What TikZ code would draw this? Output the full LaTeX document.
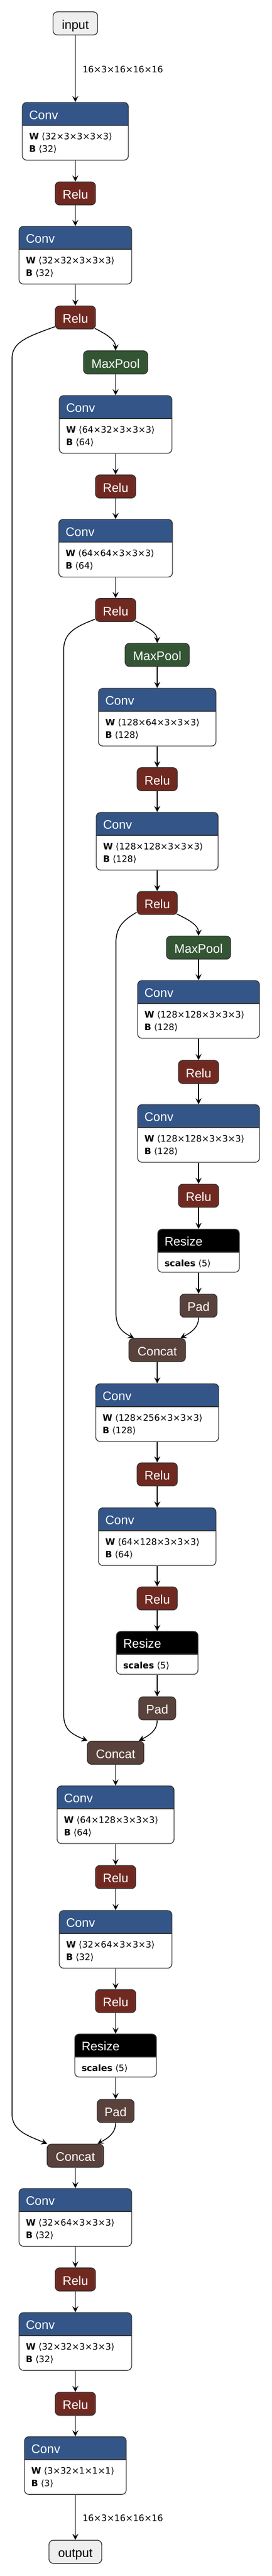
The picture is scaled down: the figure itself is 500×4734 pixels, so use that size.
\documentclass[tikz,border=0pt]{standalone}
\usepackage{fontspec}
\setmainfont{Liberation Sans}
\newfontfamily\dejavu{DejaVu Sans}
\usetikzlibrary{arrows.meta,calc}
\definecolor{convc}{RGB}{51,85,136}
\definecolor{reluc}{RGB}{112,41,33}
\definecolor{poolc}{RGB}{51,85,51}
\definecolor{tensc}{RGB}{89,66,59}
\definecolor{ioc}{RGB}{238,238,238}
\definecolor{bordc}{RGB}{51,51,51}
\newcommand{\titlefont}{\fontsize{22.8}{26}\selectfont}
\newcommand{\attrfont}{\dejavu\fontsize{16.3}{19}\selectfont}

\begin{document}
\begin{tikzpicture}[x=1pt, y=-1pt,
        box/.style={draw=bordc, line width=1.4pt, rounded corners=8pt, inner sep=0pt},
        op/.style={box, minimum height=42.5pt, text height=22pt, text depth=1.6pt, text=white, font=\titlefont},
        relubox/.style={op, fill=reluc, minimum width=74pt},
        poolbox/.style={op, fill=poolc, minimum width=118pt},
        padbox/.style={op, fill=tensc, minimum width=68pt},
        catbox/.style={op, fill=tensc, minimum width=104pt},
        iobox/.style={op, fill=ioc, text=black},
        head/.style={anchor=base west, inner sep=0pt, xshift=13pt, yshift=-31.5pt, text=white, font=\titlefont},
        attr/.style={anchor=base west, inner sep=0pt, xshift=13pt, text=black, font=\attrfont},
        wline/.style={attr, yshift=-68.7pt},
        bline/.style={attr, yshift=-92pt},
        layer/.style={box, fill=white, minimum height=106pt,
            path picture={
                \fill [#1, sharp corners] (path picture bounding box.north west) rectangle ([yshift=-42pt]path picture bounding box.north east);
                \draw [bordc, line width=1.4pt, sharp corners] ([yshift=-42pt]path picture bounding box.north west) -- ([yshift=-42pt]path picture bounding box.north east);
            }},
        conv/.style={layer=convc, label={[head]north west:Conv}},
        resize/.style={layer=black, minimum height=79pt, minimum width=150pt, label={[head]north west:Resize}, label={[wline]north west:{\textbf{scales} ⟨5⟩}}},
        edge/.style={line width=1.5pt, -{Stealth[length=11pt, width=11pt, inset=4pt]}},
        shape label/.style={font=\attrfont, anchor=west, inner sep=0pt, xshift=12.5pt, yshift=-1.5pt}
    ]
    \useasboundingbox (0, 0) rectangle (500, 4734);

    % encoder
    \node [iobox, minimum width=82pt] (input) at (138.5, 43) {input};
    \node [conv, minimum width=195pt, label={[wline]north west:{\textbf{W} ⟨32×3×3×3×3⟩}}, label={[bline]north west:{\textbf{B} ⟨32⟩}}] (conv1) at (138.5, 241.3) {};
    \node [relubox] (relu1) at (138.5, 355.5) {Relu};
    \node [conv, minimum width=207pt, label={[wline]north west:{\textbf{W} ⟨32×32×3×3×3⟩}}, label={[bline]north west:{\textbf{B} ⟨32⟩}}] (conv2) at (138.5, 469) {};
    \node [relubox] (relu2) at (138.5, 583.5) {Relu};
    \node [poolbox] (pool1) at (212.5, 666) {MaxPool};
    \node [conv, minimum width=207pt, label={[wline]north west:{\textbf{W} ⟨64×32×3×3×3⟩}}, label={[bline]north west:{\textbf{B} ⟨64⟩}}] (conv3) at (212.5, 780) {};
    \node [relubox] (relu3) at (212.5, 894) {Relu};
    \node [conv, minimum width=209pt, label={[wline]north west:{\textbf{W} ⟨64×64×3×3×3⟩}}, label={[bline]north west:{\textbf{B} ⟨64⟩}}] (conv4) at (212.5, 1007.5) {};
    \node [relubox] (relu4) at (212.5, 1121) {Relu};
    \node [poolbox] (pool2) at (289, 1203.5) {MaxPool};
    \node [conv, minimum width=216pt, label={[wline]north west:{\textbf{W} ⟨128×64×3×3×3⟩}}, label={[bline]north west:{\textbf{B} ⟨128⟩}}] (conv5) at (289, 1318) {};
    \node [relubox] (relu5) at (289, 1432) {Relu};
    \node [conv, minimum width=224pt, label={[wline]north west:{\textbf{W} ⟨128×128×3×3×3⟩}}, label={[bline]north west:{\textbf{B} ⟨128⟩}}] (conv6) at (289, 1546) {};
    \node [relubox] (relu6) at (289, 1659.5) {Relu};
    \node [poolbox] (pool3) at (365, 1741.5) {MaxPool};
    \node [conv, minimum width=224pt, label={[wline]north west:{\textbf{W} ⟨128×128×3×3×3⟩}}, label={[bline]north west:{\textbf{B} ⟨128⟩}}] (conv7) at (365, 1855) {};
    \node [relubox] (relu7) at (365, 1970) {Relu};
    \node [conv, minimum width=224pt, label={[wline]north west:{\textbf{W} ⟨128×128×3×3×3⟩}}, label={[bline]north west:{\textbf{B} ⟨128⟩}}] (conv8) at (365, 2083) {};
    \node [relubox] (relu8) at (365, 2197.5) {Relu};

    % decoder
    \node [resize] (resize1) at (365, 2298.5) {};
    \node [padbox] (pad1) at (365, 2399.5) {Pad};
    \node [catbox] (cat1) at (289, 2481) {Concat};
    \node [conv, minimum width=226pt, label={[wline]north west:{\textbf{W} ⟨128×256×3×3×3⟩}}, label={[bline]north west:{\textbf{B} ⟨128⟩}}] (conv9) at (289, 2596) {};
    \node [relubox] (relu9) at (289, 2709.5) {Relu};
    \node [conv, minimum width=216pt, label={[wline]north west:{\textbf{W} ⟨64×128×3×3×3⟩}}, label={[bline]north west:{\textbf{B} ⟨64⟩}}] (conv10) at (289, 2824) {};
    \node [relubox] (relu10) at (289, 2937.5) {Relu};
    \node [resize] (resize2) at (289, 3037.5) {};
    \node [padbox] (pad2) at (289, 3139.5) {Pad};
    \node [catbox] (cat2) at (212.5, 3221) {Concat};
    \node [conv, minimum width=215pt, label={[wline]north west:{\textbf{W} ⟨64×128×3×3×3⟩}}, label={[bline]north west:{\textbf{B} ⟨64⟩}}] (conv11) at (212.5, 3335) {};
    \node [relubox] (relu11) at (212.5, 3449.5) {Relu};
    \node [conv, minimum width=207pt, label={[wline]north west:{\textbf{W} ⟨32×64×3×3×3⟩}}, label={[bline]north west:{\textbf{B} ⟨32⟩}}] (conv12) at (212.5, 3564) {};
    \node [relubox] (relu12) at (212.5, 3677.5) {Relu};
    \node [resize] (resize3) at (212.5, 3777.5) {};
    \node [padbox] (pad3) at (212.5, 3879.5) {Pad};
    \node [catbox] (cat3) at (138.5, 3961.5) {Concat};
    \node [conv, minimum width=207pt, label={[wline]north west:{\textbf{W} ⟨32×64×3×3×3⟩}}, label={[bline]north west:{\textbf{B} ⟨32⟩}}] (conv13) at (138.5, 4075) {};
    \node [relubox] (relu13) at (138.5, 4189) {Relu};
    \node [conv, minimum width=207pt, label={[wline]north west:{\textbf{W} ⟨32×32×3×3×3⟩}}, label={[bline]north west:{\textbf{B} ⟨32⟩}}] (conv14) at (138.5, 4303) {};
    \node [relubox] (relu14) at (138.5, 4417.5) {Relu};
    \node [conv, minimum width=187pt, label={[wline]north west:{\textbf{W} ⟨3×32×1×1×1⟩}}, label={[bline]north west:{\textbf{B} ⟨3⟩}}] (conv15) at (138.5, 4531) {};
    \node [iobox, minimum width=97pt] (output) at (138.5, 4689.5) {output};

    % straight connectors
    \draw [edge] (input) -- node [shape label] {16×3×16×16×16} (conv1);
    \draw [edge] (conv1) -- (relu1);
    \draw [edge] (relu1) -- (conv2);
    \draw [edge] (conv2) -- (relu2);
    \draw [edge] (pool1) -- (conv3);
    \draw [edge] (conv3) -- (relu3);
    \draw [edge] (relu3) -- (conv4);
    \draw [edge] (conv4) -- (relu4);
    \draw [edge] (pool2) -- (conv5);
    \draw [edge] (conv5) -- (relu5);
    \draw [edge] (relu5) -- (conv6);
    \draw [edge] (conv6) -- (relu6);
    \draw [edge] (pool3) -- (conv7);
    \draw [edge] (conv7) -- (relu7);
    \draw [edge] (relu7) -- (conv8);
    \draw [edge] (conv8) -- (relu8);
    \draw [edge] (relu8) -- (resize1);
    \draw [edge] (resize1) -- (pad1);
    \draw [edge] (cat1) -- (conv9);
    \draw [edge] (conv9) -- (relu9);
    \draw [edge] (relu9) -- (conv10);
    \draw [edge] (conv10) -- (relu10);
    \draw [edge] (relu10) -- (resize2);
    \draw [edge] (resize2) -- (pad2);
    \draw [edge] (cat2) -- (conv11);
    \draw [edge] (conv11) -- (relu11);
    \draw [edge] (relu11) -- (conv12);
    \draw [edge] (conv12) -- (relu12);
    \draw [edge] (relu12) -- (resize3);
    \draw [edge] (resize3) -- (pad3);
    \draw [edge] (cat3) -- (conv13);
    \draw [edge] (conv13) -- (relu13);
    \draw [edge] (relu13) -- (conv14);
    \draw [edge] (conv14) -- (relu14);
    \draw [edge] (relu14) -- (conv15);
    \draw [edge] (conv15) -- node [shape label] {16×3×16×16×16} (output);

    % down branches
    \draw [edge] ([xshift=-2pt, yshift=2pt]relu2.south east) .. controls +(20, 10) and +(0, -20) .. (pool1.north);
    \draw [edge] ([xshift=-2pt, yshift=2pt]relu4.south east) .. controls +(20, 10) and +(0, -20) .. (pool2.north);
    \draw [edge] ([xshift=-2pt, yshift=2pt]relu6.south east) .. controls +(20, 10) and +(0, -20) .. (pool3.north);

    % pad into concat
    \draw [edge] (pad1.south) .. controls +(0, 19) and +(19, -10) .. ([xshift=-10pt]cat1.north east);
    \draw [edge] (pad2.south) .. controls +(0, 19) and +(19, -10) .. ([xshift=-10pt]cat2.north east);
    \draw [edge] (pad3.south) .. controls +(0, 19) and +(19, -10) .. ([xshift=-12pt]cat3.north east);

    % skip connections
    \draw [edge] ([yshift=5pt]relu2.south west) .. controls +(-56, 20) and +(0, -30) .. (22, 660) -- (22, 3885) .. controls +(0, 30) and +(-37, -15) .. ([xshift=1pt]cat3.north west);
    \draw [edge] ([yshift=5pt]relu4.south west) .. controls +(-40, 15) and +(0, -30) .. (117, 1195) -- (117, 3150) .. controls +(0, 30) and +(-28, -12) .. ([xshift=1pt]cat2.north west);
    \draw [edge] ([yshift=5pt]relu6.south west) .. controls +(-27, 16) and +(0, -30) .. (213, 1735) -- (213, 2410) .. controls +(0, 28) and +(-23, -12) .. ([xshift=10pt]cat1.north west);
\end{tikzpicture}
\end{document}
